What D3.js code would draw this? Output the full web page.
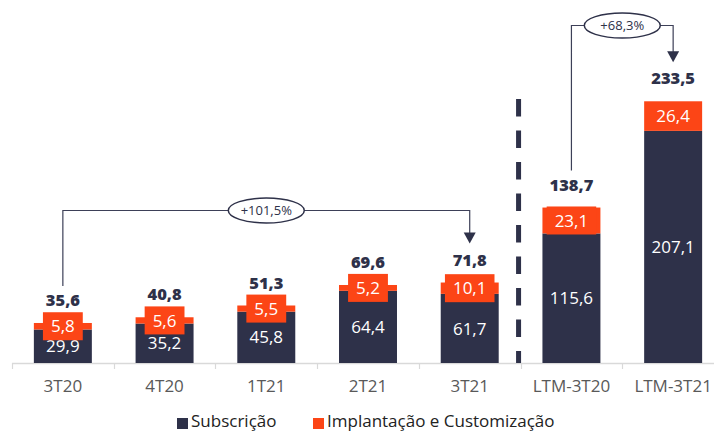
<!DOCTYPE html>
<html>
<head>
<meta charset="utf-8">
<script src="https://cdn.jsdelivr.net/npm/d3@7"></script>
<style>
  body { margin: 0; background: #fff; }
  svg { display: block; font-family: "Open Sans", sans-serif; }
</style>
</head>
<body>
<svg id="chart" width="714" height="431"></svg>
<script>
// data
var categories = ["3T20", "4T20", "1T21", "2T21", "3T21", "LTM-3T20", "LTM-3T21"];
var subscricao = [29.9, 35.2, 45.8, 64.4, 61.7, 115.6, 207.1];
var implantacao = [5.8, 5.6, 5.5, 5.2, 10.1, 23.1, 26.4];
var totals = [35.6, 40.8, 51.3, 69.6, 71.8, 138.7, 233.5];
var seriesNames = ["Subscrição", "Implantação e Customização"];
var growthFrom = ["3T20", "LTM-3T20"];
var growthTo = ["3T21", "LTM-3T21"];
var growthLabels = ["+101,5%", "+68,3%"];

var navy = "#2e3149", orange = "#fc4516";
var fmt = function(v) { return d3.format(".1f")(v).replace(".", ","); };

var svg = d3.select("#chart");
var baseY = 363;

var x = d3.scaleBand()
	.domain(categories)
	.range([12, 724])
	.paddingInner(0.43)
	.paddingOuter(0.215);

var y = d3.scaleLinear()
	.domain([0, 240])
	.range([baseY, 94]);

var step = x.step();
var x0 = 12;

// axis line + ticks at band edges
svg.append("line")
	.attr("x1", x0).attr("x2", 714)
	.attr("y1", baseY + 0.5).attr("y2", baseY + 0.5)
	.attr("stroke", "#d9d9d9").attr("stroke-width", 1.5);

d3.range(categories.length + 1).forEach(function(i) {
	var tx = Math.round(x0 + i * step) + 0.5;
	svg.append("line")
		.attr("x1", tx).attr("x2", tx)
		.attr("y1", baseY).attr("y2", baseY + 6)
		.attr("stroke", "#d9d9d9").attr("stroke-width", 1.2);
});

svg.selectAll(".tick-label")
	.data(categories)
	.enter().append("text")
	.attr("class", "tick-label")
	.attr("x", function(d) { return x(d) + x.bandwidth() / 2; })
	.attr("y", 392)
	.attr("text-anchor", "middle")
	.attr("font-size", 17)
	.attr("fill", "#595959")
	.text(function(d) { return d; });

// dashed separator between quarters and LTM
var sepX = x0 + 5 * step - 2;
svg.append("line")
	.attr("x1", sepX).attr("x2", sepX)
	.attr("y1", 99).attr("y2", baseY)
	.attr("stroke", navy).attr("stroke-width", 5)
	.attr("stroke-dasharray", "17.5,14");

// bars
var bars = svg.selectAll(".bar")
	.data(categories)
	.enter().append("g")
	.attr("class", "bar");

bars.append("rect")
	.attr("x", function(d) { return x(d); })
	.attr("width", x.bandwidth())
	.attr("y", function(d, i) { return y(subscricao[i]); })
	.attr("height", function(d, i) { return baseY - y(subscricao[i]); })
	.attr("fill", navy);

bars.append("rect")
	.attr("x", function(d) { return x(d); })
	.attr("width", x.bandwidth())
	.attr("y", function(d, i) { return y(subscricao[i] + implantacao[i]); })
	.attr("height", function(d, i) { return y(subscricao[i]) - y(subscricao[i] + implantacao[i]); })
	.attr("fill", orange);

// value labels for the navy segment
bars.append("text")
	.attr("x", function(d) { return x(d) + x.bandwidth() / 2; })
	.attr("y", function(d, i) { return (y(subscricao[i]) + baseY) / 2; })
	.attr("dy", "0.36em")
	.attr("text-anchor", "middle")
	.attr("font-size", 17)
	.attr("fill", "#fff")
	.text(function(d, i) { return fmt(subscricao[i]); });

// orange labels; small segments get a box sticking out
bars.each(function(d, i) {
	var g = d3.select(this);
	var top = y(subscricao[i] + implantacao[i]);
	var bot = y(subscricao[i]);
	var cx = x(d) + x.bandwidth() / 2;
	var cy = (top + bot) / 2;
	var t = g.append("text")
		.attr("x", cx).attr("y", cy)
		.attr("dy", "0.36em")
		.attr("text-anchor", "middle")
		.attr("font-size", 17)
		.attr("fill", "#fff")
		.text(fmt(implantacao[i]));
	if (bot - top < 26) {
		var w = t.node().getComputedTextLength() + 16;
		g.insert("rect", function() { return t.node(); })
			.attr("x", cx - w / 2).attr("y", cy - 14)
			.attr("width", w).attr("height", 28)
			.attr("fill", orange);
	}
});

// totals
bars.append("text")
	.attr("x", function(d) { return x(d) + x.bandwidth() / 2; })
	.attr("y", function(d, i) { return y(totals[i]) - 17; })
	.attr("text-anchor", "middle")
	.attr("font-size", 16.5)
	.attr("font-weight", 800)
	.attr("fill", navy)
	.text(function(d, i) { return fmt(totals[i]); });

// growth brackets
var bracketY = [210, 25];
growthFrom.forEach(function(from, k) {
	var i1 = categories.indexOf(from), i2 = categories.indexOf(growthTo[k]);
	var xa = x(from) + x.bandwidth() / 2, xb = x(growthTo[k]) + x.bandwidth() / 2;
	var by = bracketY[k] + 0.5;
	var ya = y(totals[i1]) - 37, yb = y(totals[i2]) - 39;
	svg.append("path")
		.attr("d", "M" + xa + "," + ya + "V" + by + "H" + xb + "V" + (yb - 10))
		.attr("fill", "none")
		.attr("stroke", "#3d4058")
		.attr("stroke-width", 1.2);
	svg.append("path")
		.attr("d", "M" + (xb - 6) + "," + (yb - 11) + "L" + (xb + 6) + "," + (yb - 11) + "L" + xb + "," + yb + "Z")
		.attr("fill", navy);
	var ex = (xa + xb) / 2;
	svg.append("ellipse")
		.attr("cx", ex).attr("cy", by)
		.attr("rx", 38).attr("ry", 12.5)
		.attr("fill", "#fff")
		.attr("stroke", navy)
		.attr("stroke-width", 1.5);
	svg.append("text")
		.attr("x", ex).attr("y", by)
		.attr("dy", "0.36em")
		.attr("text-anchor", "middle")
		.attr("font-size", 13)
		.attr("fill", navy)
		.text(growthLabels[k]);
});

// legend
var legendX = [177, 313];
var legendColors = [navy, orange];
seriesNames.forEach(function(name, k) {
	svg.append("rect")
		.attr("x", legendX[k]).attr("y", 418)
		.attr("width", 11).attr("height", 11)
		.attr("fill", legendColors[k]);
	svg.append("text")
		.attr("x", legendX[k] + 14).attr("y", 427)
		.attr("font-size", 17)
		.attr("fill", "#222")
		.text(name);
});
</script>
</body>
</html>
